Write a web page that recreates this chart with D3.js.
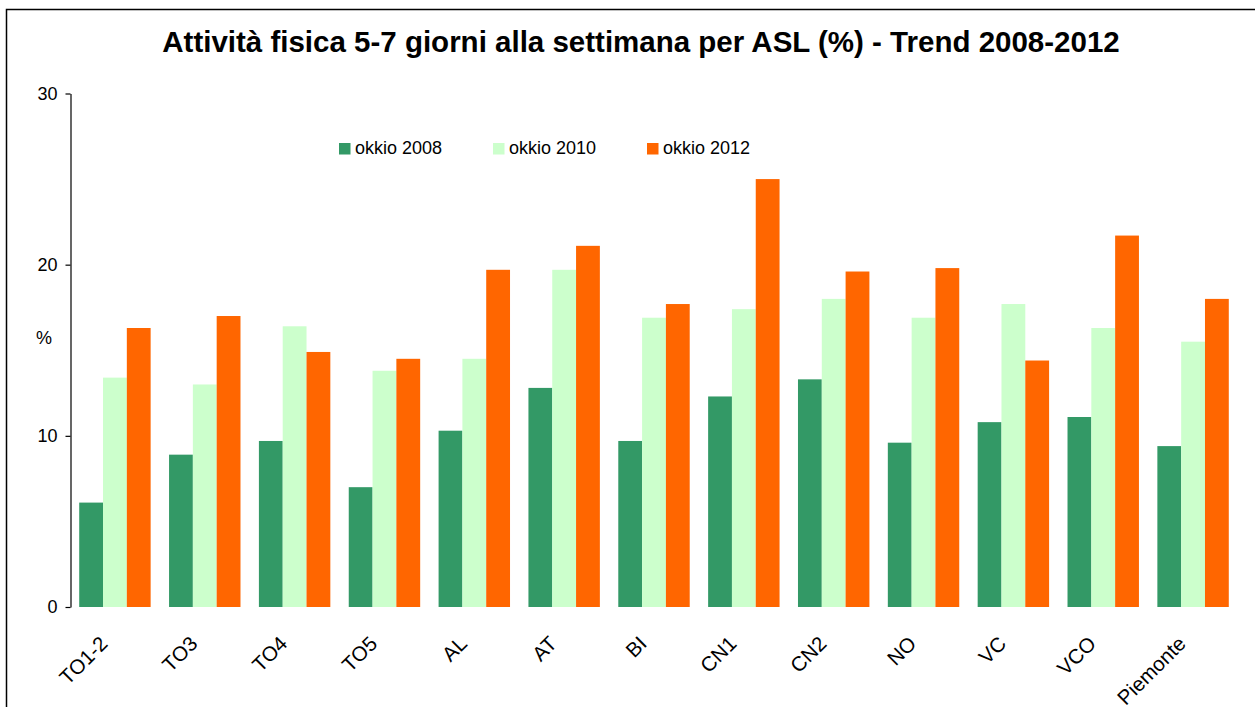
<!DOCTYPE html>
<html>
<head>
<meta charset="utf-8">
<script src="https://cdn.jsdelivr.net/npm/d3@7/dist/d3.min.js"></script>
<style>
  html, body { margin: 0; padding: 0; background: #fff; }
  svg { display: block; font-family: "Liberation Sans", Arial, sans-serif; }
</style>
</head>
<body>
<svg id="chart" width="1255" height="707"></svg>
<script>
// ASL areas (plus the regional total)
const categories = ["TO1-2", "TO3", "TO4", "TO5", "AL", "AT", "BI", "CN1", "CN2", "NO", "VC", "VCO", "Piemonte"];

// Share of children active 5-7 days a week, by survey wave (%)
const okkio2008 = [6.1, 8.9, 9.7, 7.0, 10.3, 12.8, 9.7, 12.3, 13.3, 9.6, 10.8, 11.1, 9.4];
const okkio2010 = [13.4, 13.0, 16.4, 13.8, 14.5, 19.7, 16.9, 17.4, 18.0, 16.9, 17.7, 16.3, 15.5];
const okkio2012 = [16.3, 17.0, 14.9, 14.5, 19.7, 21.1, 17.7, 25.0, 19.6, 19.8, 14.4, 21.7, 18.0];

const seriesNames = ["okkio 2008", "okkio 2010", "okkio 2012"];
const seriesColors = ["#339966", "#CCFFCC", "#FF6600"];
const yTicks = [0, 10, 20, 30];

const series = [okkio2008, okkio2010, okkio2012];

const svg = d3.select("#chart");

// outer frame
svg.append("rect")
  .attr("x", 6.5).attr("y", 9.5)
  .attr("width", 1300).attr("height", 800)
  .attr("fill", "none").attr("stroke", "#000").attr("stroke-width", 1.5);

const plot = { left: 70, right: 1238, top: 93.5, bottom: 607 };

const x = d3.scaleBand()
  .domain(categories)
  .range([plot.left, plot.right])
  .paddingInner(0.205)
  .paddingOuter(0.1025);

const xs = d3.scaleBand()
  .domain(seriesNames)
  .range([0, x.bandwidth()]);

const y = d3.scaleLinear().domain([0, 30]).range([plot.bottom, plot.top]);

// title
svg.append("text")
  .attr("x", 641).attr("y", 52)
  .attr("text-anchor", "middle")
  .attr("font-size", 29.5).attr("font-weight", "bold")
  .text("Attività fisica 5-7 giorni alla settimana per ASL (%) - Trend 2008-2012");

// bars
const groups = svg.append("g").selectAll("g")
  .data(categories)
  .join("g")
  .attr("transform", d => `translate(${x(d)},0)`);

groups.selectAll("rect")
  .data((d, i) => series.map((s, k) => ({ name: seriesNames[k], value: s[i], color: seriesColors[k] })))
  .join("rect")
  .attr("x", d => xs(d.name))
  .attr("width", xs.bandwidth())
  .attr("y", d => y(d.value))
  .attr("height", d => y(0) - y(d.value))
  .attr("fill", d => d.color);

// y axis
const yAxis = svg.append("g")
  .attr("transform", `translate(${plot.left + 0.5},0)`)
  .call(d3.axisLeft(y).tickValues(yTicks).tickSize(5).tickSizeOuter(0).tickPadding(8));
yAxis.selectAll("text").attr("font-size", 18).attr("fill", "#000")
  .attr("font-family", "'Liberation Sans', Arial, sans-serif");
yAxis.selectAll("line, path").attr("stroke", "#000").attr("stroke-width", 1.2);

// y axis unit
svg.append("text")
  .attr("x", 44).attr("y", 344)
  .attr("text-anchor", "middle")
  .attr("font-size", 18)
  .text("%");

// category labels
svg.append("g").selectAll("text")
  .data(categories)
  .join("text")
  .attr("transform", d => `translate(${x(d) + x.bandwidth() / 2 - 6},645) rotate(-45)`)
  .attr("text-anchor", "end")
  .attr("font-size", 20.5)
  .text(d => d);

// legend
const legendX = [339, 493, 647];
const legend = svg.append("g").selectAll("g")
  .data(seriesNames)
  .join("g")
  .attr("transform", (d, i) => `translate(${legendX[i]},143)`);
legend.append("rect")
  .attr("width", 11.5).attr("height", 11.5)
  .attr("fill", (d, i) => seriesColors[i]);
legend.append("text")
  .attr("x", 16).attr("y", 10.5)
  .attr("font-size", 18)
  .text(d => d);
</script>
</body>
</html>
